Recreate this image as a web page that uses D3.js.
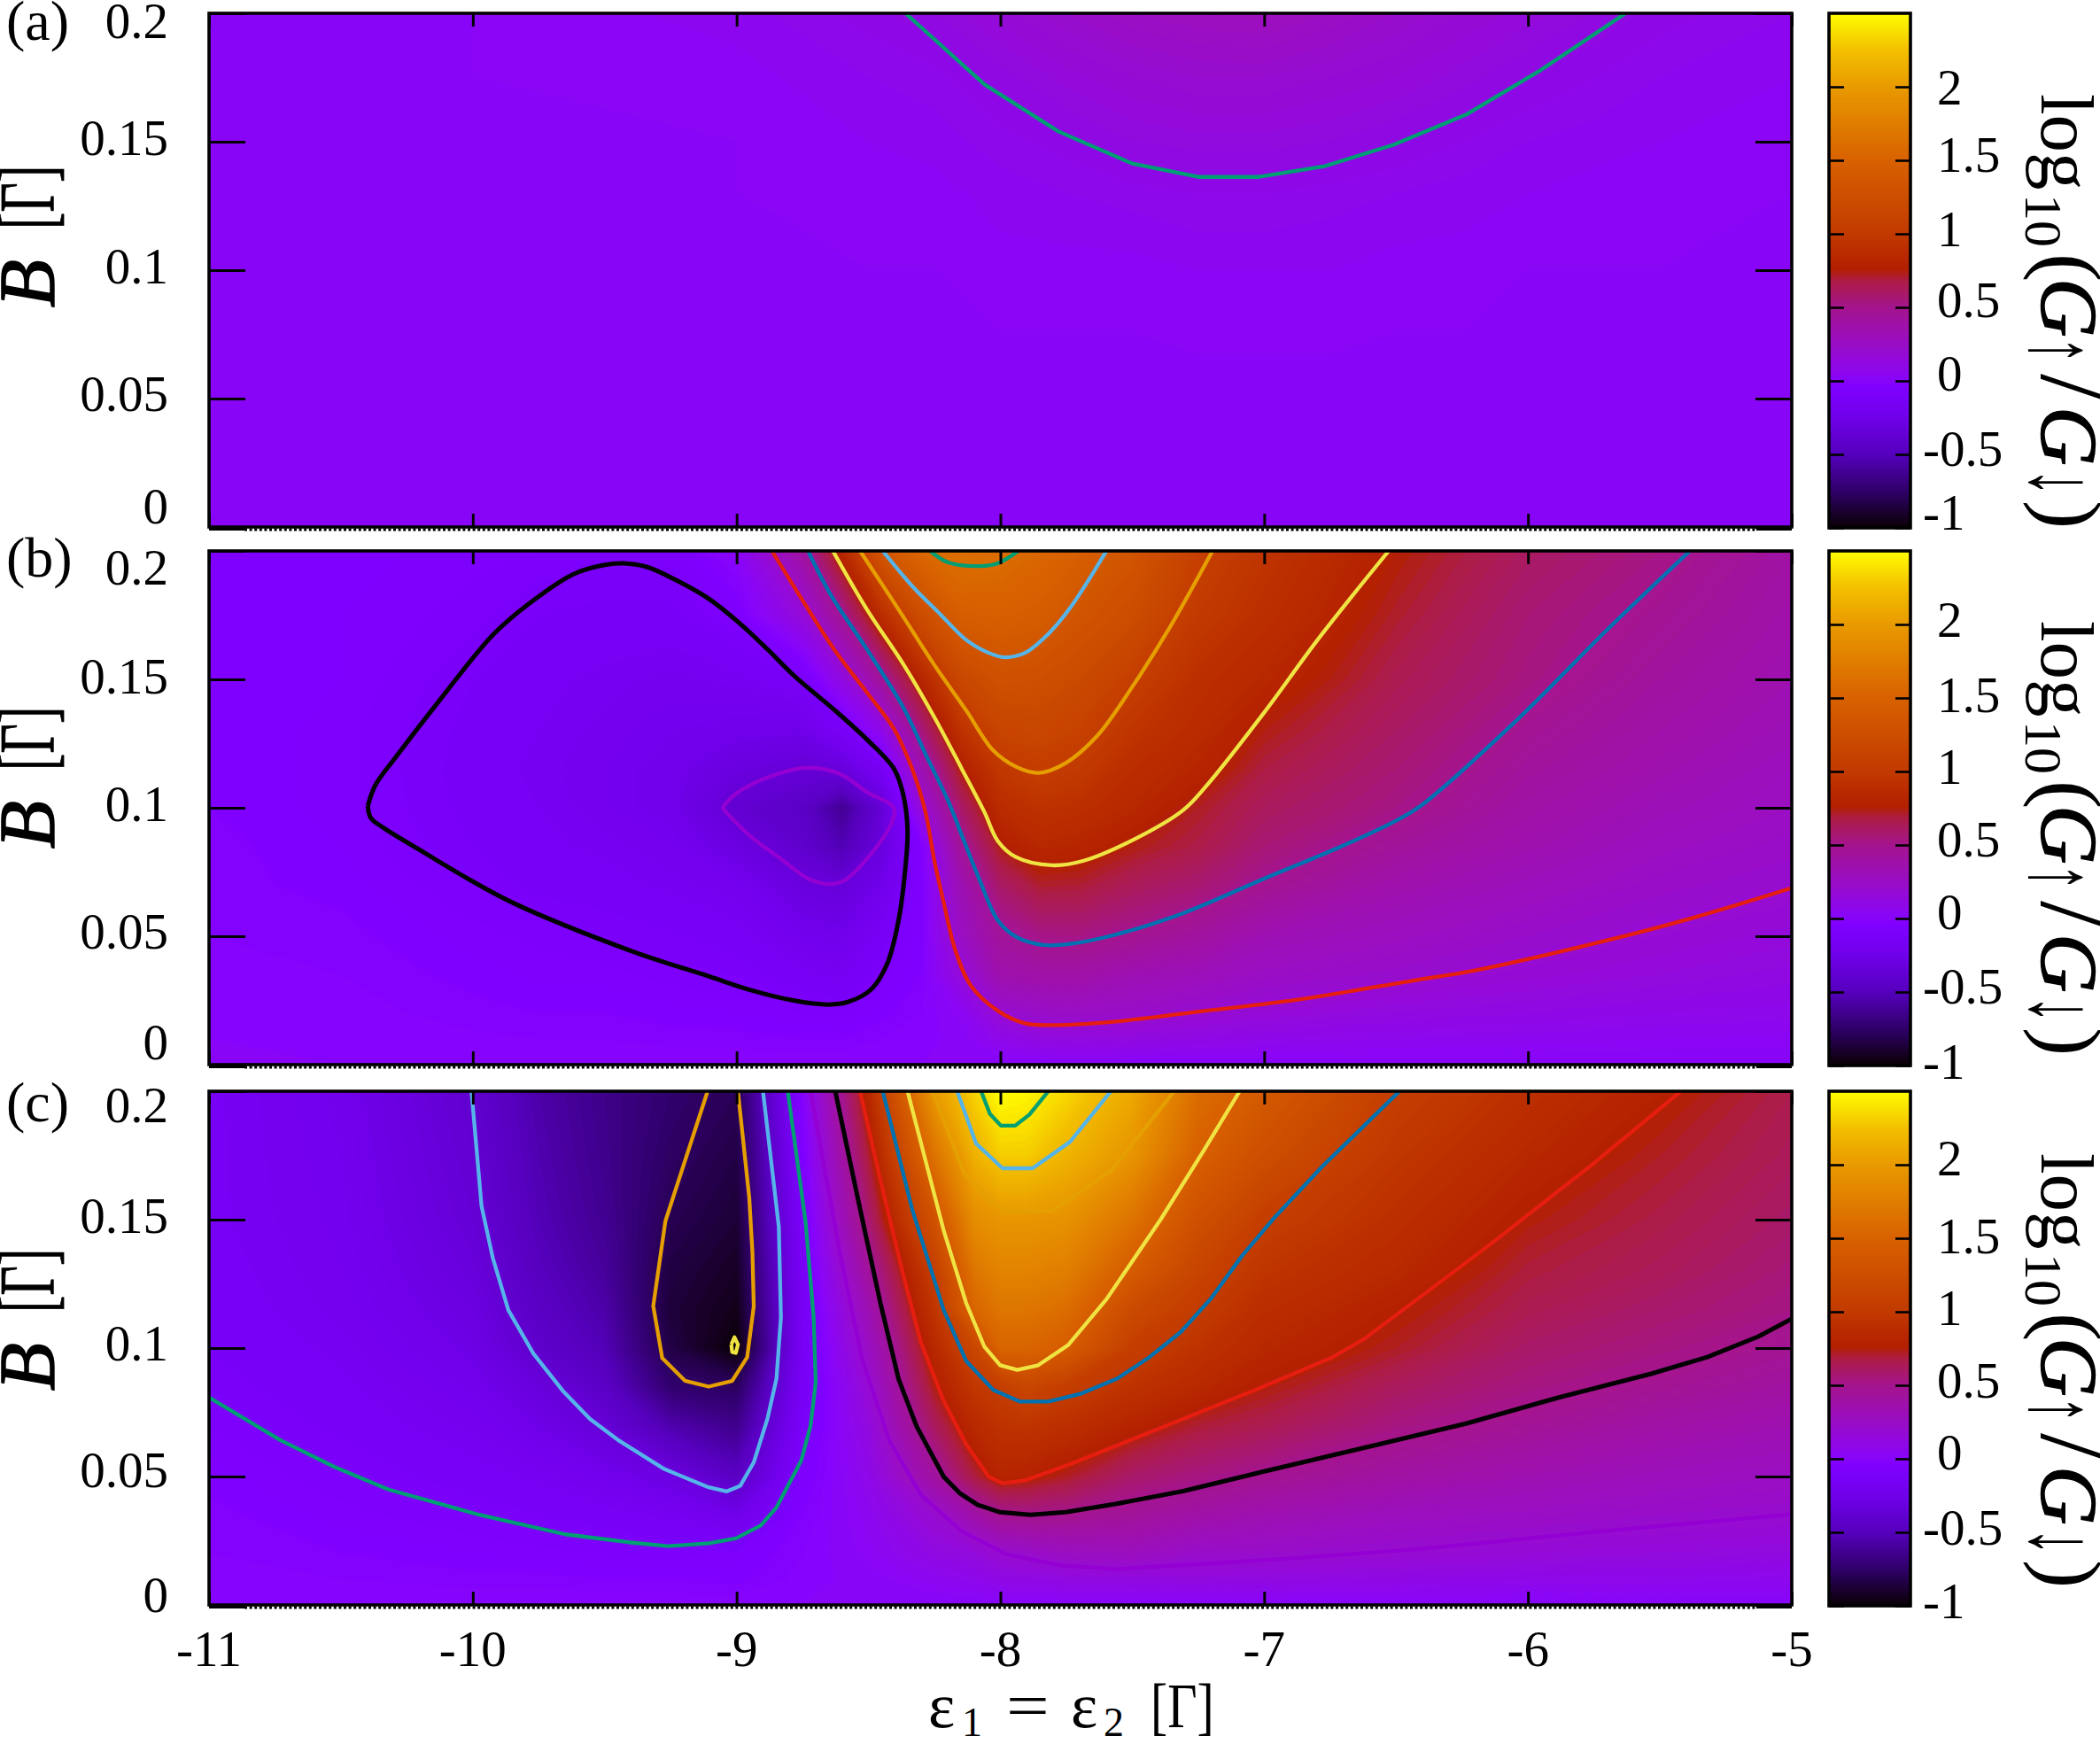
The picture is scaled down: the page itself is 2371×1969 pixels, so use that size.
<!DOCTYPE html>
<html>
<head>
<meta charset="utf-8">
<script src="https://cdn.jsdelivr.net/npm/d3@7"></script>
<style>
  body { margin: 0; background: #fff; }
  text { font-family: "Liberation Serif", serif; fill: #000; }
</style>
</head>
<body>
<svg id="chart" width="2371" height="1969"></svg>
<script>
// tick values and labels
const epsTicks = [-11, -10, -9, -8, -7, -6, -5];
const bTicks = [0, 0.05, 0.1, 0.15, 0.2];
const bTickLabels = ["0", "0.05", "0.1", "0.15", "0.2"];
const cbTicks = [-1, -0.5, 0, 0.5, 1, 1.5, 2];
const cbTickLabels = ["-1", "-0.5", "0", "0.5", "1", "1.5", "2"];
const panelNames = ["(a)", "(b)", "(c)"];

// palette stops
const palStops = [-1, -0.75, -0.5, -0.25, -0.05, 0, 0.25, 0.5, 0.68, 0.76, 1, 1.5, 2, 2.25, 2.5];
const palColors = ["#0a0005", "#30006a", "#5600bd", "#7000ea", "#7f00ff", "#8805fa", "#9a0ec5", "#a4158d", "#ad1d45", "#b32000", "#c23a00", "#d86200", "#e99a00", "#f3c000", "#ffff00"];

// heat map samples: one inner list per epsilon column, values bottom to top
const colsA = [-11, -10, -9, -8.5, -8.25, -8, -7.75, -7.5, -7.25, -7, -6.75, -6.5, -6.25, -6, -5.75, -5.5, -5];
const rowsA = [0, 0.05, 0.1, 0.13, 0.15, 0.175, 0.2];
const gridA = [
  [0, 0, 0, .01, .01, .01, .02],
  [0, 0, 0, .01, .01, .02, .02],
  [0, 0, .01, .02, .02, .03, .05],
  [0, .01, .02, .03, .04, .06, .09],
  [0, .01, .02, .03, .05, .07, .12],
  [0, .01, .03, .05, .07, .11, .17],
  [0, .01, .03, .06, .09, .15, .22],
  [0, .01, .03, .07, .12, .18, .26],
  [0, .01, .04, .08, .13, .2, .28],
  [0, .01, .04, .08, .13, .2, .29],
  [0, .01, .04, .07, .12, .18, .26],
  [0, .01, .03, .06, .1, .16, .22],
  [0, .01, .03, .05, .08, .13, .18],
  [0, .01, .02, .04, .06, .1, .15],
  [0, .01, .02, .03, .05, .08, .12],
  [0, .01, .02, .03, .04, .06, .09],
  [0, .01, .01, .02, .03, .04, .06]
];

const rowsBC = [0, .01, .02, .035, .05, .07, .085, .1, .115, .13, .15, .175, .2];

const colsB = [-11, -10.5, -10, -9.75, -9.5, -9.25, -9, -8.75, -8.6, -8.45, -8.3, -8.15, -8, -7.85, -7.7, -7.5, -7.25, -7, -6.5, -6, -5.5, -5];
const gridB = [
  [0, 0, -.01, -.01, -.02, -.03, -.03, -.04, -.04, -.04, -.04, -.04, -.04],
  [0, -.01, -.01, -.02, -.03, -.05, -.06, -.07, -.07, -.07, -.06, -.06, -.05],
  [0, -.015, -.03, -.05, -.07, -.1, -.12, -.13, -.135, -.13, -.12, -.09, -.07],
  [0, -.02, -.04, -.065, -.085, -.13, -.15, -.16, -.17, -.16, -.15, -.12, -.08],
  [0, -.02, -.04, -.07, -.1, -.14, -.17, -.2, -.2, -.19, -.17, -.13, -.09],
  [0, -.03, -.05, -.09, -.115, -.17, -.2, -.24, -.24, -.22, -.19, -.13, -.09],
  [0, -.03, -.06, -.1, -.14, -.2, -.3, -.39, -.31, -.24, -.17, -.07, .02],
  [0, -.04, -.08, -.15, -.22, -.32, -.41, -.45, -.36, -.25, -.12, .16, .42],
  [0, -.04, -.09, -.17, -.24, -.34, -.53, -.62, -.33, -.13, .12, .48, .84],
  [0, -.02, -.05, -.09, -.14, -.24, -.32, -.36, -.16, .08, .45, .88, 1.35],
  [0, -.01, -.02, -.04, -.05, -.06, -.04, .16, .33, .54, .81, 1.23, 1.55],
  [0, .01, .03, .15, .25, .33, .45, .59, .75, .92, 1.16, 1.45, 1.63],
  [0, .08, .19, .36, .44, .6, .74, .87, .98, 1.13, 1.28, 1.47, 1.6],
  [0, .12, .23, .38, .51, .71, .83, .93, 1.05, 1.15, 1.26, 1.44, 1.54],
  [0, .13, .24, .38, .52, .7, .81, .9, 1, 1.09, 1.2, 1.33, 1.47],
  [0, .12, .23, .33, .48, .63, .74, .83, .88, .95, 1.06, 1.23, 1.33],
  [0, .1, .19, .3, .42, .57, .67, .72, .81, .86, .9, 1, 1.08],
  [0, .08, .16, .25, .33, .48, .56, .62, .68, .74, .83, .9, .95],
  [0, .06, .12, .21, .27, .36, .44, .52, .56, .6, .65, .71, .76],
  [0, .05, .1, .17, .22, .29, .35, .39, .43, .47, .53, .56, .61],
  [0, .04, .08, .14, .18, .23, .27, .31, .35, .38, .42, .47, .52],
  [0, .03, .07, .11, .15, .2, .23, .26, .28, .31, .34, .37, .4]
];

const colsC = [-11, -10.5, -10, -9.75, -9.5, -9.25, -9, -8.75, -8.5, -8.25, -8.1, -8, -7.9, -7.75, -7.5, -7.25, -7, -6.5, -6, -5.5, -5];
const gridC = [
  [0, -.01, -.02, -.03, -.05, -.08, -.105, -.12, -.13, -.14, -.15, -.15, -.15],
  [0, -.02, -.04, -.07, -.095, -.13, -.15, -.17, -.19, -.2, -.21, -.22, -.23],
  [0, -.03, -.06, -.1, -.14, -.19, -.23, -.27, -.3, -.33, -.36, -.38, -.4],
  [0, -.03, -.07, -.12, -.17, -.26, -.33, -.42, -.46, -.49, -.52, -.54, -.56],
  [0, -.04, -.08, -.14, -.22, -.36, -.45, -.52, -.56, -.6, -.63, -.65, -.66],
  [0, -.04, -.09, -.17, -.3, -.55, -.74, -.84, -.87, -.85, -.81, -.77, -.74],
  [0, -.05, -.07, -.25, -.47, -.65, -.78, -1, -.95, -.92, -.88, -.84, -.8],
  [0, -.01, -.02, -.04, -.07, -.12, -.15, -.16, -.16, -.14, -.11, -.07, -.02],
  [0, .01, .03, .05, .08, .13, .18, .25, .33, .43, .57, .7, .84],
  [0, .05, .11, .2, .42, .62, .74, .84, .95, 1.05, 1.3, 1.65, 2],
  [0, .07, .14, .38, .68, .85, .97, 1.15, 1.52, 1.67, 1.88, 2.15, 2.33],
  [0, .1, .2, .48, .8, .93, 1.05, 1.52, 1.67, 1.8, 1.96, 2.3, 2.5],
  [0, .1, .22, .5, .78, .95, 1.15, 1.52, 1.67, 1.8, 1.96, 2.3, 2.47],
  [0, .12, .26, .49, .72, .9, 1.05, 1.43, 1.6, 1.75, 1.93, 2.17, 2.35],
  [0, .12, .28, .44, .59, .8, .93, 1.05, 1.2, 1.42, 1.65, 1.95, 2.1],
  [0, .13, .22, .38, .53, .7, .84, .93, 1.02, 1.12, 1.27, 1.47, 1.6],
  [0, .12, .22, .34, .48, .65, .75, .83, .886, .95, 1.05, 1.25, 1.4],
  [0, .1, .19, .28, .4, .53, .62, .72, .77, .84, .9, .97, 1.05],
  [0, .08, .16, .25, .34, .46, .53, .59, .65, .69, .75, .83, .9],
  [0, .07, .14, .22, .29, .39, .47, .53, .58, .63, .67, .72, .78],
  [0, .06, .12, .2, .26, .34, .41, .47, .52, .55, .59, .63, .66]
];

// contour lines, [epsilon, B]
const aGreen = [[-8.36, .2], [-8.06, .1723], [-7.78, .154], [-7.5, .1415], [-7.25, .1363], [-7.02, .1363], [-6.77, .1405], [-6.51, .1488], [-6.23, .1608], [-5.95, .178], [-5.63, .2]];

const bPurple = [[-9.055, .1], [-9.003, .1054], [-8.883, .1118], [-8.729, .1156], [-8.609, .1132], [-8.506, .1061], [-8.404, .1], [-8.412, .0942], [-8.506, .0801], [-8.592, .0717], [-8.652, .0703], [-8.729, .0724], [-8.832, .0801], [-8.952, .0893], [-9.055, .1]];
const bBlack = [[-10.398, .1007], [-10.37, .1087], [-10.292, .1197], [-10.124, .1421], [-9.923, .1674], [-9.788, .1794], [-9.62, .1909], [-9.509, .1944], [-9.43, .1952], [-9.341, .1938], [-9.229, .1886], [-9.106, .1814], [-8.986, .1716], [-8.883, .1617], [-8.78, .1512], [-8.626, .1378], [-8.506, .1266], [-8.404, .1153], [-8.369, .1054], [-8.352, .0914], [-8.361, .0759], [-8.386, .0562], [-8.429, .0393], [-8.489, .0294], [-8.575, .0245], [-8.652, .0234], [-8.78, .0249], [-8.952, .0292], [-9.106, .0344], [-9.4, .0443], [-9.844, .0628], [-10.012, .072], [-10.18, .0823], [-10.337, .0921], [-10.387, .0961], [-10.398, .1007]];
const bRed = [[-8.866, .2], [-8.763, .1829], [-8.626, .161], [-8.506, .1449], [-8.404, .1308], [-8.335, .1153], [-8.284, .0984], [-8.249, .0787], [-8.215, .0632], [-8.172, .0449], [-8.112, .0308], [-8.01, .021], [-7.907, .0161], [-7.804, .0154], [-7.564, .0168], [-7.221, .021], [-6.879, .0252], [-6.42, .033], [-6.21, .0365], [-5.7, .0484], [-5.37, .0573], [-5, .0688]];
const bBlue = [[-8.729, .2], [-8.643, .1829], [-8.506, .1617], [-8.369, .1392], [-8.284, .1209], [-8.198, .1026], [-8.138, .0871], [-8.078, .0717], [-8.01, .0562], [-7.941, .0498], [-7.838, .0466], [-7.735, .047], [-7.564, .0506], [-7.307, .059], [-7, .0724], [-6.707, .085], [-6.502, .0949], [-6.41, .1005], [-6.056, .1328], [-5.7, .1693], [-5.386, .2]];
const bYellow = [[-8.635, .2], [-8.506, .1772], [-8.369, .1561], [-8.249, .135], [-8.147, .1153], [-8.061, .0984], [-8.01, .0871], [-7.941, .0808], [-7.804, .0776], [-7.684, .0794], [-7.478, .0885], [-7.307, .0991], [-7.221, .1083], [-7, .1371], [-6.793, .166], [-6.528, .2]];
const bOrange = [[-8.532, .2], [-8.386, .1772], [-8.249, .1554], [-8.129, .1378], [-8.027, .1223], [-7.941, .116], [-7.855, .1136], [-7.753, .1174], [-7.633, .128], [-7.496, .1477], [-7.358, .1702], [-7.196, .2]];
const bSky = [[-8.446, .2], [-8.335, .1864], [-8.232, .1758], [-8.129, .1653], [-8.044, .1603], [-7.984, .1586], [-7.907, .1603], [-7.821, .1674], [-7.735, .1779], [-7.598, .2]];
const bGreen = [[-8.266, .2], [-8.198, .1955], [-8.078, .1941], [-8.01, .1952], [-7.932, .2]];

const cPurple = [[-8.72, .2], [-8.609, .1373], [-8.523, .095], [-8.421, .064], [-8.301, .0428], [-8.147, .0287], [-7.975, .0196], [-7.77, .0154], [-7.564, .0139], [-7.221, .0161], [-6.879, .0182], [-6.42, .0217], [-5.708, .0288], [-5, .0353]];
const cBlack = [[-8.626, .2], [-8.541, .1585], [-8.455, .1176], [-8.386, .088], [-8.318, .0696], [-8.215, .0499], [-8.155, .0436], [-8.087, .039], [-8.001, .0361], [-7.886, .0351], [-7.753, .0361], [-7.564, .0393], [-7.307, .0443], [-7, .052], [-6.588, .062], [-6.235, .0706], [-5.886, .0807], [-5.533, .09], [-5.32, .0965], [-5.127, .1045], [-5, .1114]];
const cRed = [[-8.532, .2], [-8.455, .1655], [-8.369, .1288], [-8.301, .1021], [-8.215, .0795], [-8.13, .0626], [-8.044, .0499], [-7.992, .0474], [-7.907, .0485], [-7.735, .0548], [-7.393, .0689], [-7.05, .083], [-6.742, .0964], [-6.622, .1035], [-6.42, .119], [-6.12, .1422], [-5.75, .172], [-5.42, .2]];
const cBlue = [[-8.446, .2], [-8.335, .1542], [-8.215, .1148], [-8.13, .095], [-8.027, .0837], [-7.927, .0792], [-7.818, .0792], [-7.693, .0823], [-7.556, .0882], [-7.436, .0964], [-7.316, .1063], [-7.204, .119], [-7.084, .1359], [-6.956, .1514], [-6.776, .1711], [-6.487, .2]];
const cYellow = [[-8.352, .2], [-8.215, .1458], [-8.13, .1176], [-8.061, .1006], [-8.001, .0933], [-7.936, .0915], [-7.859, .0932], [-7.744, .1011], [-7.598, .119], [-7.393, .15], [-7.23, .1768], [-7.093, .2]];
const cOrange = [[-8.258, .2], [-8.138, .1683], [-8.061, .1599], [-7.984, .1535], [-7.804, .1535], [-7.581, .169], [-7.341, .2]];
const cSky = [[-8.164, .2], [-8.092, .1796], [-7.992, .17], [-7.878, .17], [-7.736, .1803], [-7.581, .2]];
const cGreen = [[-8.073, .2], [-8.04, .1912], [-7.998, .1866], [-7.944, .1866], [-7.89, .1909], [-7.818, .2]];
const cLeftOrange = [[-9.11, .2], [-9.27, .1494], [-9.316, .1164], [-9.282, .0961], [-9.196, .0873], [-9.106, .085], [-9.017, .0872], [-8.96, .0964], [-8.935, .1162], [-8.94, .1373], [-8.952, .1585], [-8.995, .2]];
const cLeftSky = [[-10.005, .2], [-9.967, .1553], [-9.924, .135], [-9.865, .1147], [-9.77, .0978], [-9.659, .0834], [-9.556, .0724], [-9.445, .0639], [-9.274, .0529], [-9.106, .0458], [-9.037, .0442], [-8.986, .0464], [-8.935, .0555], [-8.883, .0725], [-8.849, .088], [-8.832, .1119], [-8.84, .1472], [-8.9, .2]];
const cLeftGreen = [[-11, .0808], [-10.73, .0642], [-10.524, .0537], [-10.319, .0449], [-9.976, .0351], [-9.65, .0275], [-9.41, .0244], [-9.26, .0229], [-9.106, .024], [-9.003, .0259], [-8.909, .0309], [-8.849, .0379], [-8.755, .0562], [-8.72, .0696], [-8.7, .0866], [-8.708, .1119], [-8.738, .1486], [-8.806, .2]];
const cLeftYellow = [[-9.02, .1014], [-9.008, .1042], [-8.995, .1014], [-9.003, .0981], [-9.017, .0985], [-9.02, .1014]];

// gnuplot default line colours
const purple = "#9400d3", green = "#009e73", sky = "#56b4e9", orange = "#e69f00",
      yellow = "#f0e442", blue = "#0072b2", red = "#e51e10", black = "#000";

const panels = [
  { top: 15, cols: colsA, rows: rowsA, grid: gridA, curve: d3.curveLinear,
    lines: [[aGreen, green]],
    labelDy: [-24, -6, -5, -5, 8], cbDy: [-17, -6, -8, -8, -5, -6, 1],
    nameY: 45, bY: 347, logY: 106 },
  { top: 622, cols: colsB, rows: rowsBC, grid: gridB, curve: d3.curveCatmullRom,
    lines: [[bPurple, purple], [bBlack, black], [bRed, red], [bBlue, blue], [bYellow, yellow], [bOrange, orange], [bSky, sky], [bGreen, green]],
    labelDy: [-26, -6, -5, -4, 18], cbDy: [-4, -6, -7, -6, -5, -3, -5],
    nameY: 651, bY: 958, logY: 701 },
  { top: 1232, cols: colsC, rows: rowsBC, grid: gridC, curve: d3.curveLinear,
    lines: [[cPurple, purple], [cBlack, black], [cRed, red], [cBlue, blue], [cYellow, yellow], [cOrange, orange], [cSky, sky], [cGreen, green],
            [cLeftGreen, green], [cLeftSky, sky], [cLeftOrange, orange], [cLeftYellow, yellow]],
    labelDy: [-12, -8, -6, -5, 15], cbDy: [-5, -5, -7, -5, -4, -2, -7],
    nameY: 1266, bY: 1570, logY: 1302 }
];

const plotH = 580;
const svg = d3.select("#chart");
const x = d3.scaleLinear().domain([-11, -5]).range([236, 2023]);
const color = d3.scaleLinear().domain(palStops).range(palColors).clamp(true);
const thresholds = d3.range(-1, 2.5, 0.02);

const defs = svg.append("defs");

function styleAxis(g, w) {
  g.select(".domain").remove();
  g.selectAll("line").attr("stroke", "#000").attr("stroke-width", w);
}

panels.forEach((p, k) => {
  const y = d3.scaleLinear().domain([0, 0.2]).range([p.top + plotH, p.top]);
  const g = svg.append("g");
  const clipId = "clip" + k;
  defs.append("clipPath").attr("id", clipId).append("rect")
    .attr("x", x(-11)).attr("y", p.top).attr("width", x(-5) - x(-11)).attr("height", plotH);

  // heat map: stacked filled contours of the samples
  const nx = p.cols.length, ny = p.rows.length;
  const vals = [];
  for (let j = 0; j < ny; j++) for (let i = 0; i < nx; i++) vals.push(p.grid[i][j]);
  const ix = d3.scaleLinear().domain(p.cols.map((d, i) => i + 0.5)).range(p.cols.map(d => x(d))).clamp(true);
  const iy = d3.scaleLinear().domain(p.rows.map((d, i) => i + 0.5)).range(p.rows.map(d => y(d))).clamp(true);
  const gridPath = d3.geoPath(d3.geoTransform({
    point(a, b) { this.stream.point(ix(a), iy(b)); }
  }));
  const heat = g.append("g").attr("clip-path", `url(#${clipId})`);
  heat.append("rect").attr("x", x(-11)).attr("y", p.top).attr("width", x(-5) - x(-11)).attr("height", plotH)
    .attr("fill", color(d3.min(vals)));
  heat.selectAll("path")
    .data(d3.contours().size([nx, ny]).thresholds(thresholds)(vals))
    .join("path")
    .attr("d", gridPath)
    .attr("fill", d => color(d.value + 0.01));

  // contour lines
  const line = d3.line().x(d => x(d[0])).y(d => y(d[1])).curve(p.curve);
  g.append("g").attr("clip-path", `url(#${clipId})`)
    .selectAll("path").data(p.lines).join("path")
    .attr("d", d => line(d[0]))
    .attr("fill", "none")
    .attr("stroke", d => d[1])
    .attr("stroke-width", d => d[1] === black ? 5 : 4.3)
    .attr("stroke-linejoin", "round");

  // dotted strip under the frame, solid where the B = 0 tick runs
  g.append("line").attr("x1", x(-11) + 40).attr("x2", x(-5) - 40)
    .attr("y1", p.top + plotH + 3).attr("y2", p.top + plotH + 3)
    .attr("stroke", "#000").attr("stroke-width", 3).attr("stroke-dasharray", "3 2.6");
  [[x(-11), x(-11) + 40], [x(-5) - 40, x(-5)]].forEach(s => {
    g.append("line").attr("x1", s[0]).attr("x2", s[1])
      .attr("y1", p.top + plotH + 2).attr("y2", p.top + plotH + 2)
      .attr("stroke", "#000").attr("stroke-width", 4);
  });

  // axes
  const ax = g.append("g").attr("transform", `translate(0,${p.top + plotH})`)
    .call(d3.axisBottom(x).tickValues(epsTicks).tickSize(-15).tickFormat(""));
  styleAxis(ax, 3);
  const axT = g.append("g").attr("transform", `translate(0,${p.top})`)
    .call(d3.axisTop(x).tickValues(epsTicks).tickSize(-15).tickFormat(""));
  styleAxis(axT, 3);
  const ayR = g.append("g").attr("transform", `translate(${x(-5)},0)`)
    .call(d3.axisRight(y).tickValues(bTicks).tickSize(-41).tickFormat(""));
  styleAxis(ayR, 3);
  const ayL = g.append("g").attr("transform", `translate(${x(-11)},0)`)
    .call(d3.axisLeft(y).tickValues(bTicks).tickSize(-41).tickPadding(46)
      .tickFormat((d, i) => bTickLabels[i]));
  styleAxis(ayL, 3);
  ayL.selectAll("text")
    .attr("font-family", null).attr("font-size", 57)
    .attr("dy", (d, i) => (p.labelDy[i] + 19) + "px");

  g.append("rect").attr("x", x(-11)).attr("y", p.top).attr("width", x(-5) - x(-11)).attr("height", plotH)
    .attr("fill", "none").attr("stroke", "#000").attr("stroke-width", 3.6);

  // panel letter and B axis title
  g.append("text").attr("x", 7).attr("y", p.nameY).attr("font-size", 64).text(panelNames[k]);
  g.append("text").attr("transform", `translate(60,${p.bY}) rotate(-90)`)
    .attr("font-size", 88).attr("font-style", "italic")
    .attr("stroke", "#000").attr("stroke-width", 1.6)
    .text("B");
  g.append("text").attr("transform", `translate(60,${p.bY - 88}) rotate(-90) scale(0.66,1)`)
    .attr("font-size", 88)
    .attr("stroke", "#000").attr("stroke-width", 0.8)
    .text("[Γ]");

  // colour bar
  const cbX0 = 2065, cbX1 = 2157;
  const cby = d3.scaleLinear().domain([-1, 2.5]).range([p.top + 581, p.top]);
  g.append("g").selectAll("rect").data(d3.range(-1, 2.5, 0.01)).join("rect")
    .attr("x", cbX0).attr("width", cbX1 - cbX0)
    .attr("y", d => cby(d + 0.01) - 0.5).attr("height", d => cby(d) - cby(d + 0.01) + 1)
    .attr("fill", d => color(d));
  const cbL = g.append("g").attr("transform", `translate(${cbX0},0)`)
    .call(d3.axisLeft(cby).tickValues(cbTicks).tickSize(-17).tickFormat(""));
  styleAxis(cbL, 2.6);
  const cbR = g.append("g").attr("transform", `translate(${cbX1},0)`)
    .call(d3.axisRight(cby).tickValues(cbTicks).tickSize(-17).tickFormat(""));
  styleAxis(cbR, 2.6);
  g.append("rect").attr("x", cbX0).attr("y", p.top).attr("width", cbX1 - cbX0).attr("height", 581)
    .attr("fill", "none").attr("stroke", "#000").attr("stroke-width", 3.6);
  g.append("g").selectAll("text").data(cbTicks).join("text")
    .attr("x", d => d < 0 ? 2171 : 2187)
    .attr("y", (d, i) => cby(d) + p.cbDy[i] + 19)
    .attr("font-size", 57)
    .text((d, i) => cbTickLabels[i]);

  // colour bar title, placed piece by piece reading downwards
  const pieces = [
    ["log", 0, 0, 85, "", 1], ["10", 113, 18, 60, "", 1], ["(", 180, 0, 97, "", 1],
    ["G", 208, 0, 92, "i", 1], ["↑", 274, 12, 104, "", 0.6], ["/", 316, 0, 120, "", 1],
    ["G", 353, 0, 92, "i", 1], ["↓", 423, 12, 104, "", 0.6], [")", 459, 0, 97, "", 1]
  ];
  const title = g.append("g").attr("transform", `translate(2305,${p.logY}) rotate(90)`);
  title.selectAll("text").data(pieces).join("text")
    .attr("transform", d => `translate(${d[1]},${d[2]}) scale(${d[5]},1)`)
    .attr("font-size", d => d[3])
    .attr("font-style", d => d[4] ? "italic" : null)
    .attr("stroke", d => d[4] ? "#000" : null)
    .attr("stroke-width", d => d[4] ? 1.4 : null)
    .text(d => d[0]);
});

// epsilon tick labels and title, below panel (c)
svg.append("g").selectAll("text").data(epsTicks).join("text")
  .attr("x", d => x(d)).attr("y", 1881).attr("text-anchor", "middle").attr("font-size", 57)
  .text(d => d);

const xTitle = [
  ["ε", 1048, 1950, 72, 1], ["1", 1086, 1960, 46, 1], ["=", 1136, 1950, 72, 1.2],
  ["ε", 1209, 1950, 72, 1], ["2", 1246, 1960, 46, 1], ["[Γ]", 1299, 1950, 72, 0.8]
];
svg.append("g").selectAll("text").data(xTitle).join("text")
  .attr("transform", d => `translate(${d[1]},${d[2]}) scale(${d[4]},1)`)
  .attr("font-size", d => d[3])
  .text(d => d[0]);
</script>
</body>
</html>
